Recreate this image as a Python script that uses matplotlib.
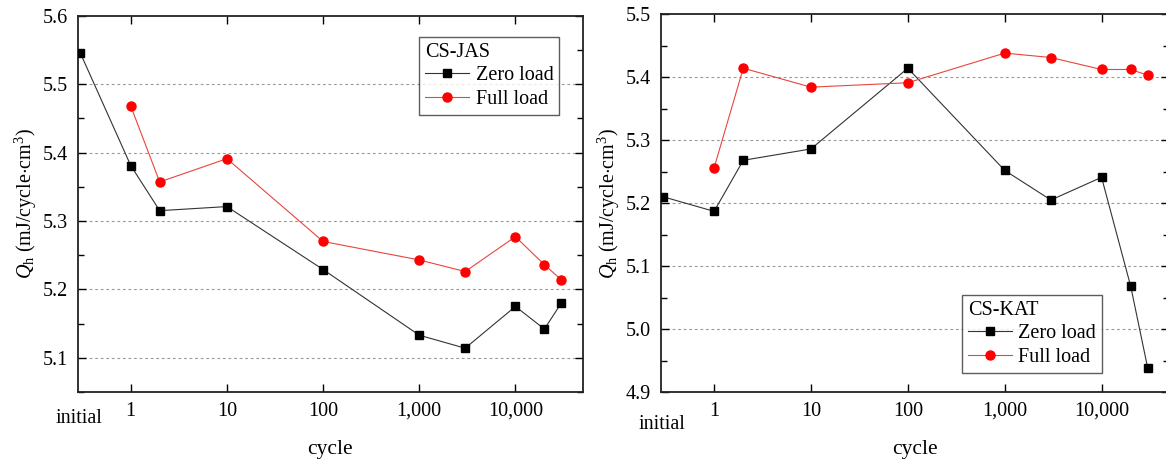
import numpy as np
import matplotlib.pyplot as plt
from matplotlib.ticker import FixedLocator, NullLocator, MultipleLocator

plt.rcParams['font.family'] = ['Liberation Serif', 'DejaVu Serif']
plt.rcParams['mathtext.fontset'] = 'custom'
plt.rcParams['mathtext.rm'] = 'Liberation Serif'
plt.rcParams['mathtext.it'] = 'Liberation Serif:italic'

# "initial" state is plotted just left of the first cycle on the log axis
X_INIT = 0.3
cycles_zero = [X_INIT, 1, 2, 10, 100, 1000, 3000, 10000, 20000, 30000]
cycles_full = [1, 2, 10, 100, 1000, 3000, 10000, 20000, 30000]

jas_zero = [5.545, 5.381, 5.315, 5.321, 5.229, 5.133, 5.114, 5.175, 5.142, 5.180]
jas_full = [5.468, 5.357, 5.391, 5.270, 5.243, 5.226, 5.277, 5.236, 5.214]

kat_zero = [5.210, 5.187, 5.268, 5.286, 5.414, 5.252, 5.205, 5.241, 5.068, 4.938]
kat_full = [5.256, 5.414, 5.384, 5.391, 5.438, 5.431, 5.412, 5.412, 5.403]

xticks = [1, 10, 100, 1000, 10000]
xticklabels = ['1', '10', '100', '1,000', '10,000']

FS = 14.5
RED = '#ff0000'
REDLINE = '#e8453c'

fig = plt.figure(figsize=(11.66, 4.61), dpi=100)
ax1 = fig.add_axes([0.0669, 0.1497, 0.4328, 0.8163])
ax2 = fig.add_axes([0.5669, 0.149, 0.4359, 0.8206])


def draw(ax, zero, full, ylim, title, legend_loc, anchor, init_dy):
    ax.plot(cycles_zero, zero, color='#333333', lw=0.8, marker='s',
            ms=5.5, mfc='black', mec='black', label='Zero load', zorder=3)
    ax.plot(cycles_full, full, color=REDLINE, lw=0.8, marker='o',
            ms=6.5, mfc=RED, mec=RED, label='Full load', zorder=3)
    ax.set_xscale('log')
    ax.set_xlim(0.283, 50000)
    ax.set_ylim(*ylim)
    ax.xaxis.set_major_locator(FixedLocator(xticks))
    ax.set_xticklabels(xticklabels)
    ax.xaxis.set_minor_locator(NullLocator())
    ax.yaxis.set_major_locator(MultipleLocator(0.1))
    ax.yaxis.set_minor_locator(MultipleLocator(0.05))
    ax.tick_params(which='both', direction='in', top=True, right=True,
                   labelsize=FS, pad=7)
    ax.tick_params(which='major', length=6, width=1.0)
    ax.tick_params(which='minor', length=4, width=1.0)
    for sp in ax.spines.values():
        sp.set_linewidth(1.3)
        sp.set_color('#222222')
    # dashed guides at the inner major levels (multiples of 0.1)
    lo = int(round(ylim[0] * 10))
    hi = int(round(ylim[1] * 10))
    for k in range(lo, hi + 1):
        yv = k / 10
        if ylim[0] + 1e-6 < yv < ylim[1] - 1e-6:
            ax.axhline(yv, color='#999999', lw=0.8, ls=(0, (2.5, 2.5)), zorder=1)
    ax.text(X_INIT * 0.97, -0.045 - init_dy, 'initial', transform=ax.get_xaxis_transform(),
            ha='center', va='top', fontsize=FS)
    ax.set_xlabel('cycle', fontsize=FS + 1, labelpad=14)
    ax.set_ylabel(r'$Q_\mathrm{h}$ (mJ/cycle$\cdot$cm$^3$)', fontsize=FS, labelpad=3)
    leg = ax.legend(title=title, loc=legend_loc, bbox_to_anchor=anchor,
                    fontsize=FS, title_fontsize=FS, frameon=True, fancybox=False,
                    edgecolor='#333333', handlelength=2.2, handletextpad=0.3,
                    borderpad=0.3, labelspacing=0.22, borderaxespad=0,
                    alignment='left')
    leg.get_frame().set_linewidth(1.0)


draw(ax1, jas_zero, jas_full, (5.05, 5.6), 'CS-JAS', 'upper left', (0.676, 0.944), 0.0)
draw(ax2, kat_zero, kat_full, (4.9, 5.5), 'CS-KAT', 'lower left', (0.592, 0.051), 0.015)

fig.savefig('out.png', dpi=100, facecolor='white')
